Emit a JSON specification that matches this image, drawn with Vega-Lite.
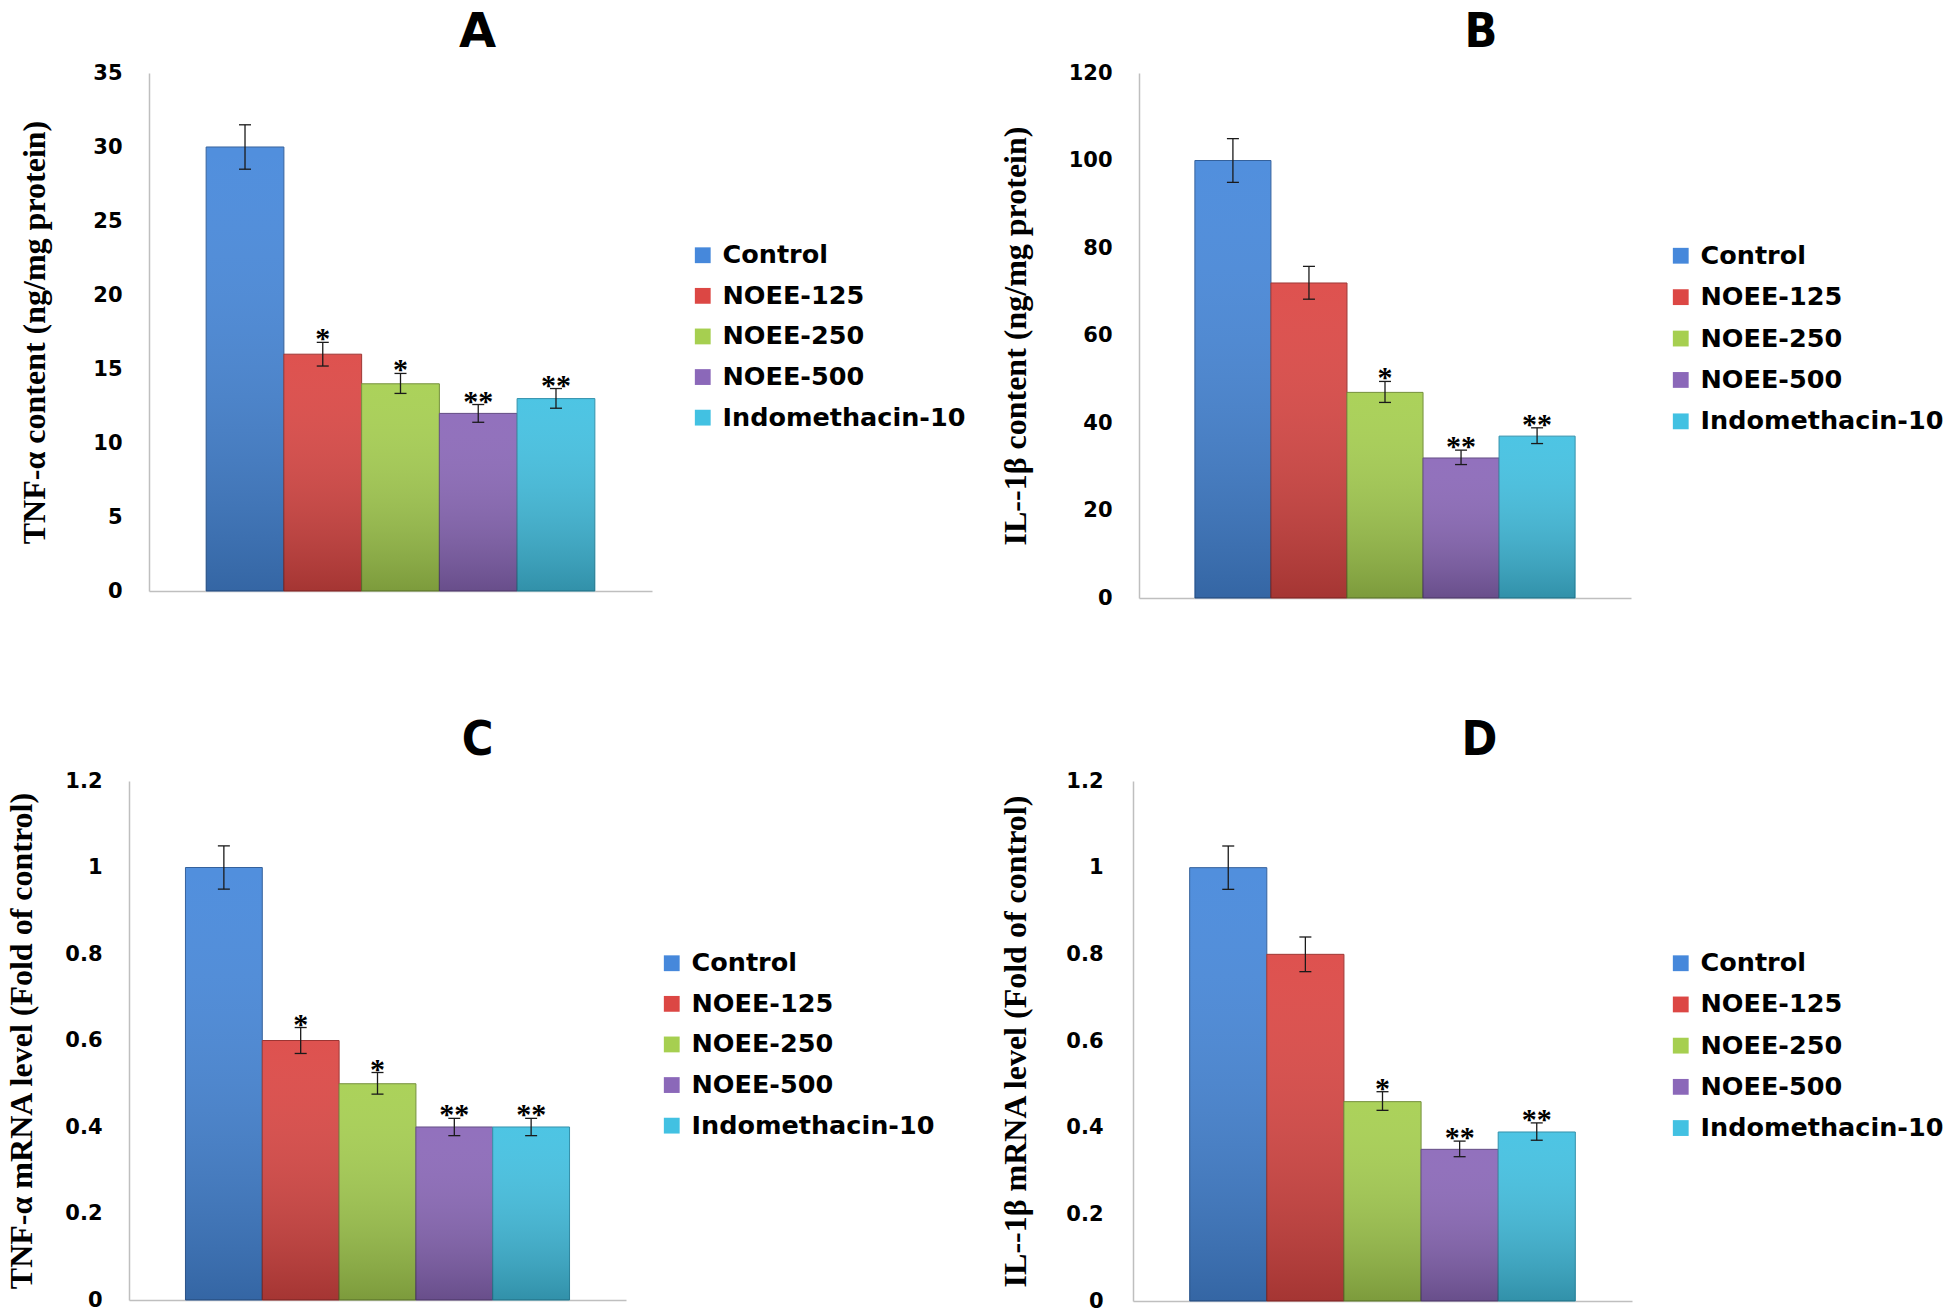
{
  "$schema": "https://vega.github.io/schema/vega-lite/v6.json",
  "background": "white",
  "padding": {"left": 5, "top": 9, "right": 0, "bottom": 0},
  "config": {"view": {"stroke": null}},
  "columns": 2,
  "bounds": "flush",
  "spacing": {"row": 183, "column": 481},
  "resolve": {"legend": {"color": "independent"}},
  "datasets": {
    "A": [
      {"group": "Control", "value": 30, "lo": 28.5, "hi": 31.5, "sig": ""},
      {"group": "NOEE-125", "value": 16, "lo": 15.2, "hi": 16.8, "sig": "*"},
      {"group": "NOEE-250", "value": 14, "lo": 13.35, "hi": 14.7, "sig": "*"},
      {"group": "NOEE-500", "value": 12, "lo": 11.4, "hi": 12.6, "sig": "**"},
      {"group": "Indomethacin-10", "value": 13, "lo": 12.35, "hi": 13.68, "sig": "**"}
    ],
    "B": [
      {"group": "Control", "value": 100, "lo": 95, "hi": 105, "sig": ""},
      {"group": "NOEE-125", "value": 72, "lo": 68.3, "hi": 75.8, "sig": ""},
      {"group": "NOEE-250", "value": 47, "lo": 44.7, "hi": 49.5, "sig": "*"},
      {"group": "NOEE-500", "value": 32, "lo": 30.5, "hi": 33.8, "sig": "**"},
      {"group": "Indomethacin-10", "value": 37, "lo": 35.3, "hi": 38.9, "sig": "**"}
    ],
    "C": [
      {"group": "Control", "value": 1.0, "lo": 0.95, "hi": 1.05, "sig": ""},
      {"group": "NOEE-125", "value": 0.6, "lo": 0.57, "hi": 0.63, "sig": "*"},
      {"group": "NOEE-250", "value": 0.5, "lo": 0.476, "hi": 0.526, "sig": "*"},
      {"group": "NOEE-500", "value": 0.4, "lo": 0.38, "hi": 0.42, "sig": "**"},
      {"group": "Indomethacin-10", "value": 0.4, "lo": 0.38, "hi": 0.42, "sig": "**"}
    ],
    "D": [
      {"group": "Control", "value": 1.0, "lo": 0.95, "hi": 1.05, "sig": ""},
      {"group": "NOEE-125", "value": 0.8, "lo": 0.76, "hi": 0.84, "sig": ""},
      {"group": "NOEE-250", "value": 0.46, "lo": 0.44, "hi": 0.483, "sig": "*"},
      {"group": "NOEE-500", "value": 0.35, "lo": 0.333, "hi": 0.369, "sig": "**"},
      {"group": "Indomethacin-10", "value": 0.39, "lo": 0.371, "hi": 0.411, "sig": "**"}
    ]
  },
  "concat": [
    {
      "width": 523, "height": 518,
      "data": {"name": "A"},
      "title": {"text": "A", "font": "DejaVu Sans", "fontSize": 48, "fontWeight": "bold", "color": "#000", "anchor": "middle", "frame": "group", "dx": 87, "offset": 5},
      "encoding": {
        "x": {"field": "group", "type": "nominal",
          "scale": {"domain": ["Control", "NOEE-125", "NOEE-250", "NOEE-500", "Indomethacin-10"], "paddingInner": 0, "paddingOuter": 0.735, "range": [20, 523]},
          "axis": {"labels": false, "ticks": false, "title": null, "domainColor": "#bfbfbf", "domainWidth": 1.5}}
      },
      "layer": [
        {"mark": {"type": "bar", "strokeWidth": 1},
         "encoding": {
           "y": {"field": "value", "type": "quantitative", "scale": {"domain": [0, 35], "nice": false},
             "axis": {"title": "TNF-α content (ng/mg protein)", "values": [0, 5, 10, 15, 20, 25, 30, 35], "offset": -20, "grid": false, "domainColor": "#bfbfbf", "domainWidth": 1.5, "ticks": false, "labelFont": "DejaVu Sans", "labelFontSize": 21, "labelFontWeight": "bold", "labelColor": "#000", "labelPadding": 27, "titleFont": "Liberation Serif", "titleFontSize": 32, "titleFontWeight": "bold", "titleColor": "#000", "titlePadding": 41}},
           "color": {"field": "group", "type": "nominal", "scale": {"domain": ["Control", "NOEE-125", "NOEE-250", "NOEE-500", "Indomethacin-10"], "range": ["#4688DB", "#DC4744", "#A6CF50", "#8B68B9", "#42C1E2"]},
             "legend": {"title": null, "orient": "none", "legendX": 561, "legendY": 169.5, "symbolType": "square", "symbolSize": 250, "symbolStrokeWidth": 0, "labelFont": "DejaVu Sans", "labelFontSize": 25.5, "labelFontWeight": "bold", "labelColor": "#000", "labelOffset": 7, "labelLimit": 500, "rowPadding": 13.6, "padding": 0}},
           "stroke": {"field": "group", "type": "nominal", "scale": {"domain": ["Control", "NOEE-125", "NOEE-250", "NOEE-500", "Indomethacin-10"], "range": ["#2E5C99", "#9A2F2D", "#6F8C34", "#5E4680", "#2B8DA8"]}, "legend": null}
         }},
        {"mark": {"type": "bar", "fill": {"gradient": "linear", "x1": 0, "y1": 0, "x2": 0, "y2": 1, "stops": [{"offset": 0, "color": "rgba(255,255,255,0.06)"}, {"offset": 1, "color": "rgba(0,0,0,0.25)"}]}},
         "encoding": {"y": {"field": "value", "type": "quantitative"}}},
        {"mark": {"type": "rule", "color": "#1a1a1a", "strokeWidth": 1.3},
         "encoding": {"y": {"field": "lo", "type": "quantitative"}, "y2": {"field": "hi"}}},
        {"mark": {"type": "tick", "orient": "horizontal", "size": 12, "thickness": 1.3, "color": "#1a1a1a", "opacity": 1},
         "encoding": {"y": {"field": "hi", "type": "quantitative"}}},
        {"mark": {"type": "tick", "orient": "horizontal", "size": 12, "thickness": 1.3, "color": "#1a1a1a", "opacity": 1},
         "encoding": {"y": {"field": "lo", "type": "quantitative"}}},
        {"mark": {"type": "text", "font": "Liberation Serif", "fontSize": 30, "fontWeight": "bold", "color": "#000", "baseline": "alphabetic", "dy": 6},
         "encoding": {"y": {"field": "hi", "type": "quantitative"}, "text": {"field": "sig"}}}
      ]
    },
    {
      "width": 498, "height": 525,
      "data": {"name": "B"},
      "title": {"text": "B", "font": "DejaVu Sans Condensed", "fontSize": 48, "fontWeight": "bold", "color": "#000", "anchor": "middle", "frame": "group", "dx": 99, "offset": 5},
      "encoding": {
        "x": {"field": "group", "type": "nominal",
          "scale": {"domain": ["Control", "NOEE-125", "NOEE-250", "NOEE-500", "Indomethacin-10"], "paddingInner": 0, "paddingOuter": 0.735, "range": [6, 498]},
          "axis": {"labels": false, "ticks": false, "title": null, "domainColor": "#bfbfbf", "domainWidth": 1.5}}
      },
      "layer": [
        {"mark": {"type": "bar", "strokeWidth": 1},
         "encoding": {
           "y": {"field": "value", "type": "quantitative", "scale": {"domain": [0, 120], "nice": false},
             "axis": {"title": "IL--1β content (ng/mg protein)", "values": [0, 20, 40, 60, 80, 100, 120], "offset": -6, "grid": false, "domainColor": "#bfbfbf", "domainWidth": 1.5, "ticks": false, "labelFont": "DejaVu Sans", "labelFontSize": 21, "labelFontWeight": "bold", "labelColor": "#000", "labelPadding": 27, "titleFont": "Liberation Serif", "titleFontSize": 32, "titleFontWeight": "bold", "titleColor": "#000", "titlePadding": 36}},
           "color": {"field": "group", "type": "nominal", "scale": {"domain": ["Control", "NOEE-125", "NOEE-250", "NOEE-500", "Indomethacin-10"], "range": ["#4688DB", "#DC4744", "#A6CF50", "#8B68B9", "#42C1E2"]},
             "legend": {"title": null, "orient": "none", "legendX": 535, "legendY": 170, "symbolType": "square", "symbolSize": 250, "symbolStrokeWidth": 0, "labelFont": "DejaVu Sans", "labelFontSize": 25.5, "labelFontWeight": "bold", "labelColor": "#000", "labelOffset": 7, "labelLimit": 500, "rowPadding": 14.4, "padding": 0}},
           "stroke": {"field": "group", "type": "nominal", "scale": {"domain": ["Control", "NOEE-125", "NOEE-250", "NOEE-500", "Indomethacin-10"], "range": ["#2E5C99", "#9A2F2D", "#6F8C34", "#5E4680", "#2B8DA8"]}, "legend": null}
         }},
        {"mark": {"type": "bar", "fill": {"gradient": "linear", "x1": 0, "y1": 0, "x2": 0, "y2": 1, "stops": [{"offset": 0, "color": "rgba(255,255,255,0.06)"}, {"offset": 1, "color": "rgba(0,0,0,0.25)"}]}},
         "encoding": {"y": {"field": "value", "type": "quantitative"}}},
        {"mark": {"type": "rule", "color": "#1a1a1a", "strokeWidth": 1.3},
         "encoding": {"y": {"field": "lo", "type": "quantitative"}, "y2": {"field": "hi"}}},
        {"mark": {"type": "tick", "orient": "horizontal", "size": 12, "thickness": 1.3, "color": "#1a1a1a", "opacity": 1},
         "encoding": {"y": {"field": "hi", "type": "quantitative"}}},
        {"mark": {"type": "tick", "orient": "horizontal", "size": 12, "thickness": 1.3, "color": "#1a1a1a", "opacity": 1},
         "encoding": {"y": {"field": "lo", "type": "quantitative"}}},
        {"mark": {"type": "text", "font": "Liberation Serif", "fontSize": 30, "fontWeight": "bold", "color": "#000", "baseline": "alphabetic", "dy": 6},
         "encoding": {"y": {"field": "hi", "type": "quantitative"}, "text": {"field": "sig"}}}
      ]
    },
    {
      "width": 497, "height": 519,
      "data": {"name": "C"},
      "title": {"text": "C", "font": "DejaVu Sans Condensed", "fontSize": 48, "fontWeight": "bold", "color": "#000", "anchor": "middle", "frame": "group", "dx": 100, "offset": 5},
      "encoding": {
        "x": {"field": "group", "type": "nominal",
          "scale": {"domain": ["Control", "NOEE-125", "NOEE-250", "NOEE-500", "Indomethacin-10"], "paddingInner": 0, "paddingOuter": 0.735},
          "axis": {"labels": false, "ticks": false, "title": null, "domainColor": "#bfbfbf", "domainWidth": 1.5}}
      },
      "layer": [
        {"mark": {"type": "bar", "strokeWidth": 1},
         "encoding": {
           "y": {"field": "value", "type": "quantitative", "scale": {"domain": [0, 1.2], "nice": false},
             "axis": {"title": "TNF-α mRNA level (Fold of control)", "values": [0, 0.2, 0.4, 0.6, 0.8, 1, 1.2], "format": "~g", "grid": false, "domainColor": "#bfbfbf", "domainWidth": 1.5, "ticks": false, "labelFont": "DejaVu Sans", "labelFontSize": 21, "labelFontWeight": "bold", "labelColor": "#000", "labelPadding": 27, "titleFont": "Liberation Serif", "titleFontSize": 32, "titleFontWeight": "bold", "titleColor": "#000", "titlePadding": 26}},
           "color": {"field": "group", "type": "nominal", "scale": {"domain": ["Control", "NOEE-125", "NOEE-250", "NOEE-500", "Indomethacin-10"], "range": ["#4688DB", "#DC4744", "#A6CF50", "#8B68B9", "#42C1E2"]},
             "legend": {"title": null, "orient": "none", "legendX": 530, "legendY": 169.5, "symbolType": "square", "symbolSize": 250, "symbolStrokeWidth": 0, "labelFont": "DejaVu Sans", "labelFontSize": 25.5, "labelFontWeight": "bold", "labelColor": "#000", "labelOffset": 7, "labelLimit": 500, "rowPadding": 13.6, "padding": 0}},
           "stroke": {"field": "group", "type": "nominal", "scale": {"domain": ["Control", "NOEE-125", "NOEE-250", "NOEE-500", "Indomethacin-10"], "range": ["#2E5C99", "#9A2F2D", "#6F8C34", "#5E4680", "#2B8DA8"]}, "legend": null}
         }},
        {"mark": {"type": "bar", "fill": {"gradient": "linear", "x1": 0, "y1": 0, "x2": 0, "y2": 1, "stops": [{"offset": 0, "color": "rgba(255,255,255,0.06)"}, {"offset": 1, "color": "rgba(0,0,0,0.25)"}]}},
         "encoding": {"y": {"field": "value", "type": "quantitative"}}},
        {"mark": {"type": "rule", "color": "#1a1a1a", "strokeWidth": 1.3},
         "encoding": {"y": {"field": "lo", "type": "quantitative"}, "y2": {"field": "hi"}}},
        {"mark": {"type": "tick", "orient": "horizontal", "size": 12, "thickness": 1.3, "color": "#1a1a1a", "opacity": 1},
         "encoding": {"y": {"field": "hi", "type": "quantitative"}}},
        {"mark": {"type": "tick", "orient": "horizontal", "size": 12, "thickness": 1.3, "color": "#1a1a1a", "opacity": 1},
         "encoding": {"y": {"field": "lo", "type": "quantitative"}}},
        {"mark": {"type": "text", "font": "Liberation Serif", "fontSize": 30, "fontWeight": "bold", "color": "#000", "baseline": "alphabetic", "dy": 6},
         "encoding": {"y": {"field": "hi", "type": "quantitative"}, "text": {"field": "sig"}}}
      ]
    },
    {
      "width": 499, "height": 520,
      "data": {"name": "D"},
      "title": {"text": "D", "font": "DejaVu Sans Condensed", "fontSize": 48, "fontWeight": "bold", "color": "#000", "anchor": "middle", "frame": "group", "dx": 97, "offset": 5},
      "encoding": {
        "x": {"field": "group", "type": "nominal",
          "scale": {"domain": ["Control", "NOEE-125", "NOEE-250", "NOEE-500", "Indomethacin-10"], "paddingInner": 0, "paddingOuter": 0.735},
          "axis": {"labels": false, "ticks": false, "title": null, "domainColor": "#bfbfbf", "domainWidth": 1.5}}
      },
      "layer": [
        {"mark": {"type": "bar", "strokeWidth": 1},
         "encoding": {
           "y": {"field": "value", "type": "quantitative", "scale": {"domain": [0, 1.2], "nice": false},
             "axis": {"title": "IL--1β mRNA level (Fold of control)", "values": [0, 0.2, 0.4, 0.6, 0.8, 1, 1.2], "format": "~g", "grid": false, "domainColor": "#bfbfbf", "domainWidth": 1.5, "ticks": false, "labelFont": "DejaVu Sans", "labelFontSize": 21, "labelFontWeight": "bold", "labelColor": "#000", "labelPadding": 30, "titleFont": "Liberation Serif", "titleFontSize": 32, "titleFontWeight": "bold", "titleColor": "#000", "titlePadding": 33}},
           "color": {"field": "group", "type": "nominal", "scale": {"domain": ["Control", "NOEE-125", "NOEE-250", "NOEE-500", "Indomethacin-10"], "range": ["#4688DB", "#DC4744", "#A6CF50", "#8B68B9", "#42C1E2"]},
             "legend": {"title": null, "orient": "none", "legendX": 535, "legendY": 169.5, "symbolType": "square", "symbolSize": 250, "symbolStrokeWidth": 0, "labelFont": "DejaVu Sans", "labelFontSize": 25.5, "labelFontWeight": "bold", "labelColor": "#000", "labelOffset": 7, "labelLimit": 500, "rowPadding": 14.2, "padding": 0}},
           "stroke": {"field": "group", "type": "nominal", "scale": {"domain": ["Control", "NOEE-125", "NOEE-250", "NOEE-500", "Indomethacin-10"], "range": ["#2E5C99", "#9A2F2D", "#6F8C34", "#5E4680", "#2B8DA8"]}, "legend": null}
         }},
        {"mark": {"type": "bar", "fill": {"gradient": "linear", "x1": 0, "y1": 0, "x2": 0, "y2": 1, "stops": [{"offset": 0, "color": "rgba(255,255,255,0.06)"}, {"offset": 1, "color": "rgba(0,0,0,0.25)"}]}},
         "encoding": {"y": {"field": "value", "type": "quantitative"}}},
        {"mark": {"type": "rule", "color": "#1a1a1a", "strokeWidth": 1.3},
         "encoding": {"y": {"field": "lo", "type": "quantitative"}, "y2": {"field": "hi"}}},
        {"mark": {"type": "tick", "orient": "horizontal", "size": 12, "thickness": 1.3, "color": "#1a1a1a", "opacity": 1},
         "encoding": {"y": {"field": "hi", "type": "quantitative"}}},
        {"mark": {"type": "tick", "orient": "horizontal", "size": 12, "thickness": 1.3, "color": "#1a1a1a", "opacity": 1},
         "encoding": {"y": {"field": "lo", "type": "quantitative"}}},
        {"mark": {"type": "text", "font": "Liberation Serif", "fontSize": 30, "fontWeight": "bold", "color": "#000", "baseline": "alphabetic", "dy": 6},
         "encoding": {"y": {"field": "hi", "type": "quantitative"}, "text": {"field": "sig"}}}
      ]
    }
  ]
}
